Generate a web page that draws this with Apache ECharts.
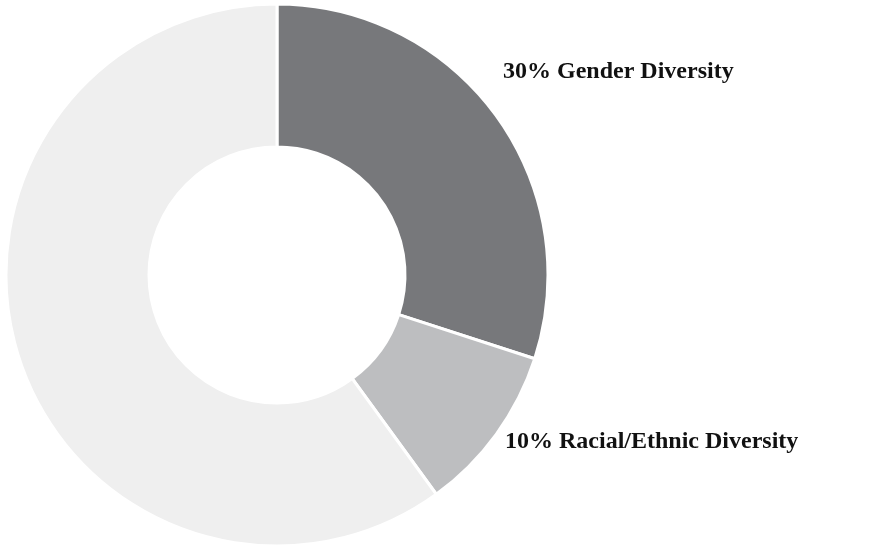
<!DOCTYPE html>
<html><head><meta charset="utf-8">
<script src="https://cdn.jsdelivr.net/npm/echarts@6/dist/echarts.min.js"></script>
<style>html,body{margin:0;padding:0;background:#fff}#c{width:875px;height:550px}</style>
</head><body><div id="c"></div>
<script>
const categories = ['Gender Diversity', 'Racial/Ethnic Diversity', 'Other'];
const values = [30, 10, 60];
const labelTexts = ['30% Gender Diversity', '10% Racial/Ethnic Diversity'];
const colors = ['#77787b', '#bdbec0', '#efefef'];
const chart = echarts.init(document.getElementById('c'));
chart.setOption({
  animation: false,
  series: [{
    type: 'pie',
    center: [277, 275],
    radius: [128, 271],
    startAngle: 90,
    label: { show: false },
    labelLine: { show: false },
    itemStyle: { borderColor: '#fff', borderWidth: 3 },
    data: categories.map((c, i) => ({ name: c, value: values[i], itemStyle: { color: colors[i] } }))
  }],
  graphic: [
    { type: 'text', left: 503, top: 60, style: { text: labelTexts[0], font: 'bold 24px "Liberation Serif"', fill: '#111' } },
    { type: 'text', left: 505, top: 430, style: { text: labelTexts[1], font: 'bold 24px "Liberation Serif"', fill: '#111' } }
  ]
});
</script></body></html>
